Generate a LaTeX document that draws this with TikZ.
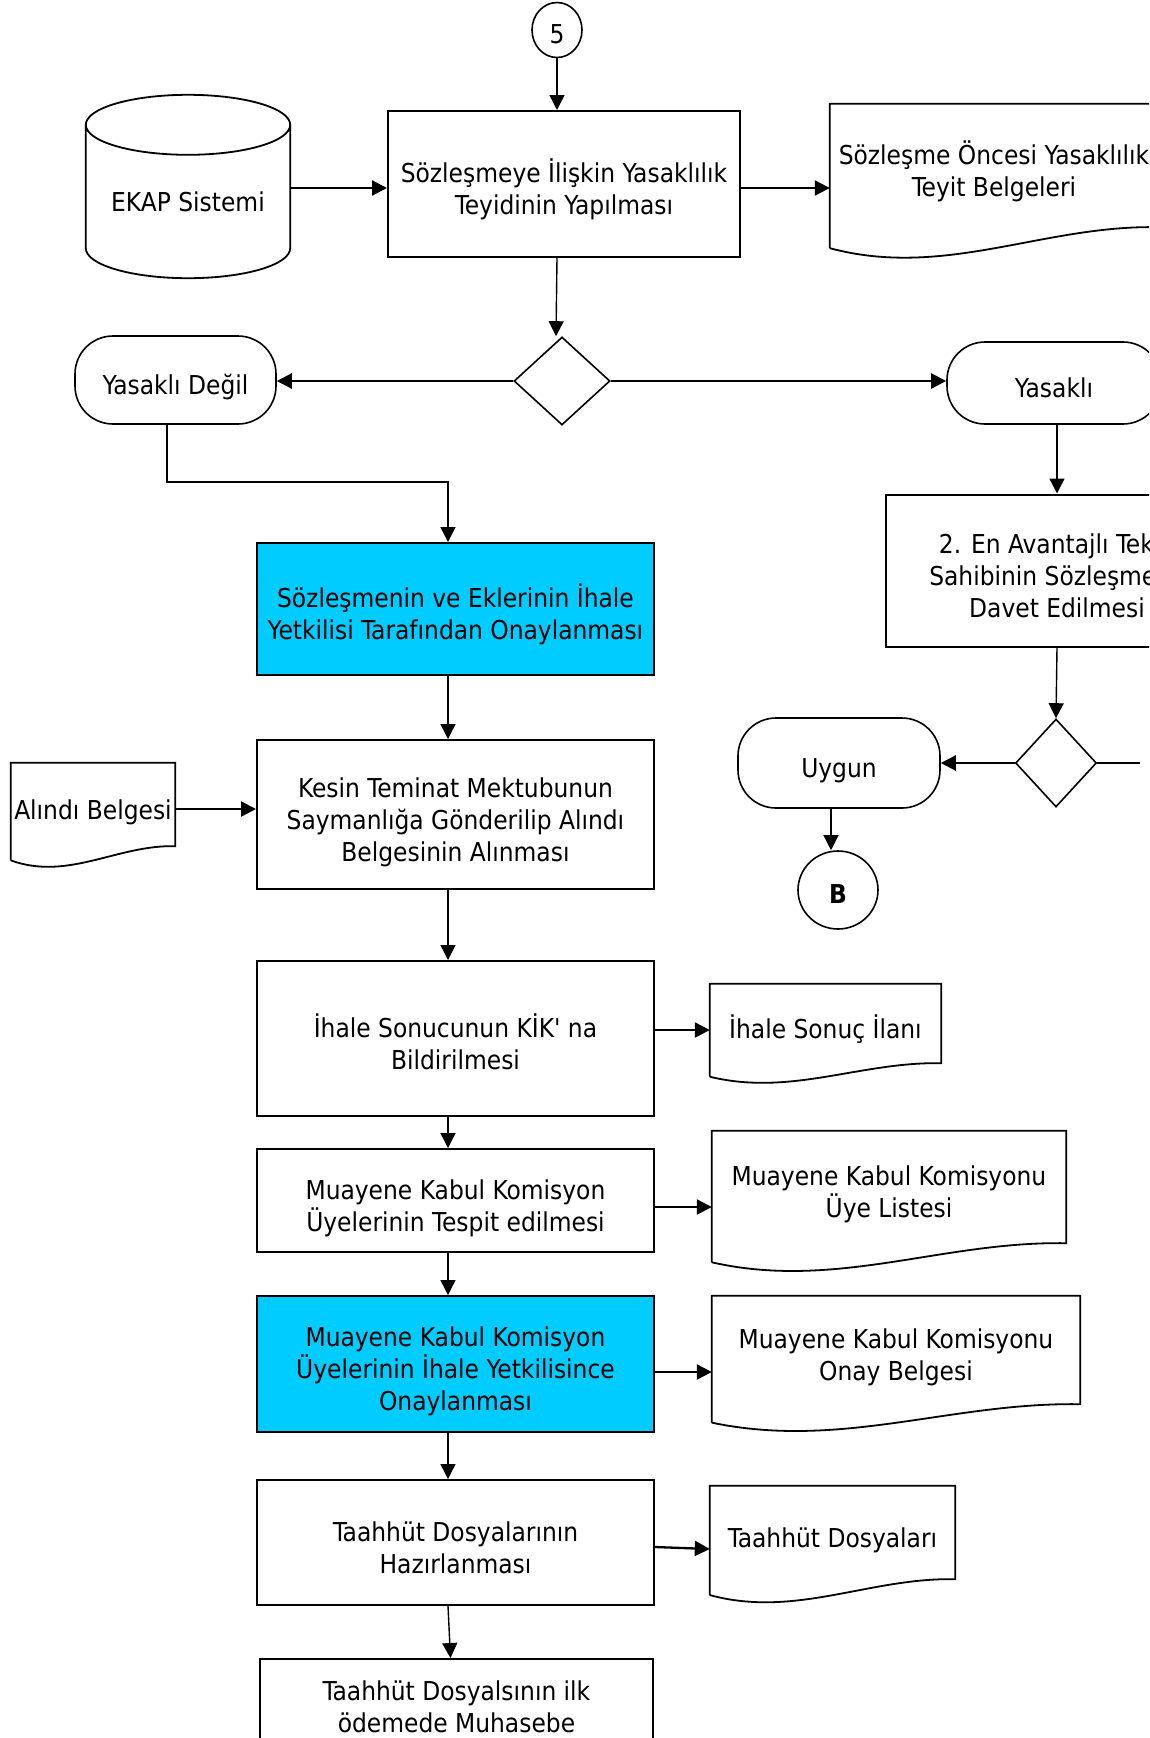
\documentclass[tikz,border=0pt]{standalone}
\usepackage{fontspec}
\setmainfont{DejaVu Sans Condensed}
\usepackage{tikz}
\usetikzlibrary{arrows.meta, positioning, shapes.geometric, calc}

\definecolor{procblue}{HTML}{00CCFF}

% document outline with the wavy bottom, drawn round a named node
\newcommand{\docwave}[1]{%
  \draw[shapeline] let \p1=(#1.north west), \p2=(#1.south east),
      \n1={\x2-\x1}, \n2={\y1-\y2} in
    (\x1,\y2-0.17*\n2) -- (\x1,\y1) -- (\x2,\y1) -- (\x2,\y2)
    .. controls (\x1+0.65*\n1,\y2+0.02*\n2) and (\x1+0.35*\n1,\y2-0.42*\n2) .. (\x1,\y2-0.17*\n2);}

% database cylinder round a named node
\newcommand{\cylout}[1]{%
  \draw[shapeline] let \p1=(#1.north west), \p2=(#1.south east), \p3=(#1.north) in
    (\x3,\y3) ellipse [x radius={(\x2-\x1)/2}, y radius=30pt]
    (\x1,\y1) -- (\x1,\y2+30pt)
    arc[start angle=180, end angle=360, x radius={(\x2-\x1)/2}, y radius=30pt]
    -- (\x2,\y1);}

\begin{document}
\begin{tikzpicture}[
  x=1pt, y=-1pt,
  font=\fontsize{26}{32}\selectfont,
  txt/.style={inner sep=0pt, align=center, text height=38.6pt, execute at end node=\strut},
  twoline/.style={text height=70.6pt},
  threeline/.style={text height=102.6pt},
  procbox/.style={txt, draw, line width=2pt},
  bluebox/.style={procbox, fill=procblue},
  docnode/.style={txt},
  term/.style={txt, draw, line width=1.6pt, rounded corners=38pt},
  decision/.style={draw, diamond, line width=1.6pt, inner sep=0pt},
  onpage/.style={draw, ellipse, line width=1.6pt, inner sep=0pt, text height=27pt, text depth=0pt},
  shapeline/.style={line width=1.8pt},
  arrow/.style={-{Triangle[length=15pt, width=15pt]}, line width=1.4pt},
  sidearrow/.style={arrow, line width=2.3pt},
]
\useasboundingbox (0,0) rectangle (1149,1738);
\clip (0,0) rectangle (1149,1738);

% ============ TOP: connector 5 and the check ============
\node[onpage, minimum width=50pt, minimum height=55pt] (c5) at (557,30) {5};
\node[procbox, twoline, minimum width=352pt, minimum height=146pt] (teyit) at (564,184)
  {Sözleşmeye İlişkin Yasaklılık\\Teyidinin Yapılması};
\node[docnode, text height=28.6pt, minimum width=204pt, minimum height=153pt] (ekap) at (188,201.5) {EKAP Sistemi};
\node[docnode, twoline, minimum width=328pt, minimum height=123pt] (sozdoc) at (994,165.5)
  {Sözleşme Öncesi Yasaklılık\\Teyit Belgeleri};
\cylout{ekap}
\docwave{sozdoc}

\draw[arrow] (c5.south) -- (c5.south |- teyit.north);
\draw[sidearrow] ([yshift=13.5pt]ekap.east) -- ([yshift=13.5pt]ekap.east -| teyit.west);
\draw[sidearrow] ([yshift=-4pt]teyit.east) -- ([yshift=-4pt]teyit.east -| sozdoc.west);

% ============ DECISION: yasakli or not ============
\node[decision, minimum width=96pt, minimum height=88pt] (dia1) at (562,381) {};
\node[term, minimum width=201pt, minimum height=88pt] (ydegil) at (175.5,380) {Yasaklı Değil};
\node[term, minimum width=214pt, minimum height=82pt] (yasakli) at (1054,383) {Yasaklı};

\draw[arrow] ([xshift=-7pt]teyit.south) -- ([xshift=-6pt]dia1.north);
\draw[sidearrow] (dia1.west) -- (dia1.west -| ydegil.east);
\draw[sidearrow] (dia1.east) -- (dia1.east -| yasakli.west);

% ============ RIGHT BRANCH: second bidder ============
\node[procbox, threeline, minimum width=342pt, minimum height=152pt] (davet) at (1057,570.5)
  {2. En Avantajlı Teklif\\Sahibinin Sözleşmeye\\Davet Edilmesi};
\node[decision, minimum width=81pt, minimum height=88pt] (dia2) at (1056,763) {};
\node[term, minimum width=202pt, minimum height=90pt] (uygun) at (839,763) {Uygun};
\node[onpage, minimum width=80pt, minimum height=78pt,
  font=\fontsize{26}{32}\selectfont\bfseries] (cB) at (838,890) {B};
\coordinate (offright) at (1140,763);

\draw[arrow] (davet.north |- yasakli.south) -- (davet.north);
\draw[arrow] (davet.south) -- (dia2.north);
\draw[sidearrow] (dia2.west) -- (dia2.west -| uygun.east);
\draw[shapeline] (dia2.east) -- (offright);
\draw[arrow] ([xshift=-8pt]uygun.south) -- ([xshift=-8pt]uygun.south |- cB.north);

% ============ MAIN COLUMN ============
\coordinate (bend) at (448,482);
\node[bluebox, twoline, minimum width=397pt, minimum height=132pt] (onay1) at (455.5,609)
  {Sözleşmenin ve Eklerinin İhale\\Yetkilisi Tarafından Onaylanması};
\node[procbox, threeline, minimum width=397pt, minimum height=149pt] (kesin) at (455.5,814.5)
  {Kesin Teminat Mektubunun\\Saymanlığa Gönderilip Alındı\\Belgesinin Alınması};
\node[docnode, minimum width=164pt, minimum height=83pt] (alindi) at (93,804.5) {Alındı Belgesi};
\node[procbox, twoline, minimum width=397pt, minimum height=155pt] (kik) at (455.5,1038.5)
  {İhale Sonucunun KİK\textquotesingle{} na\\Bildirilmesi};
\node[docnode, minimum width=231pt, minimum height=79pt] (ilan) at (825.5,1023.5) {İhale Sonuç İlanı};
\node[procbox, twoline, minimum width=397pt, minimum height=103pt] (tespit) at (455.5,1200.5)
  {Muayene Kabul Komisyon\\Üyelerinin Tespit edilmesi};
\node[docnode, twoline, minimum width=354pt, minimum height=112pt] (liste) at (889,1187)
  {Muayene Kabul Komisyonu\\Üye Listesi};
\node[bluebox, threeline, minimum width=397pt, minimum height=136pt] (onay2) at (455.5,1364)
  {Muayene Kabul Komisyon\\Üyelerinin İhale Yetkilisince\\Onaylanması};
\node[docnode, twoline, minimum width=368pt, minimum height=108pt] (onaydoc) at (896,1350)
  {Muayene Kabul Komisyonu\\Onay Belgesi};
\node[procbox, twoline, minimum width=397pt, minimum height=125pt] (hazir) at (455.5,1542.5)
  {Taahhüt Dosyalarının\\Hazırlanması};
\node[docnode, minimum width=245pt, minimum height=93pt] (dosya) at (832.5,1532.5) {Taahhüt Dosyaları};
\node[procbox, twoline, minimum width=393pt, minimum height=86pt] (muhasebe) at (456.5,1702)
  {Taahhüt Dosyalsının ilk\\ödemede Muhasebe};
\docwave{alindi}
\docwave{ilan}
\docwave{liste}
\docwave{onaydoc}
\docwave{dosya}

\draw[arrow] ([xshift=-8.5pt]ydegil.south) |- (bend) -- (bend |- onay1.north);
\draw[arrow] ([xshift=-7.5pt]onay1.south) -- ([xshift=-7.5pt]kesin.north);
\draw[arrow] ([xshift=-7.5pt]kesin.south) -- ([xshift=-7.5pt]kik.north);
\draw[arrow] ([xshift=-7.5pt]kik.south) -- ([xshift=-7.5pt]tespit.north);
\draw[arrow] ([xshift=-7.5pt]tespit.south) -- ([xshift=-7.5pt]onay2.north);
\draw[arrow] ([xshift=-7.5pt]onay2.south) -- ([xshift=-7.5pt]hazir.north);
\draw[arrow] ([xshift=-7.5pt]hazir.south) -- ([xshift=-6pt]muhasebe.north);

\draw[sidearrow] ([yshift=-4.5pt]alindi.east) -- ([yshift=-4.5pt]alindi.east -| kesin.west);
\draw[sidearrow] ([yshift=8.5pt]kik.east) -- ([yshift=8.5pt]kik.east -| ilan.west);
\draw[sidearrow] ([yshift=-6.5pt]tespit.east) -- ([yshift=-6.5pt]tespit.east -| liste.west);
\draw[sidearrow] ([yshift=-8pt]onay2.east) -- ([yshift=-8pt]onay2.east -| onaydoc.west);
\draw[sidearrow] ([yshift=-4.5pt]hazir.east) -- ([yshift=-16.5pt]dosya.west);

\end{tikzpicture}
\end{document}
